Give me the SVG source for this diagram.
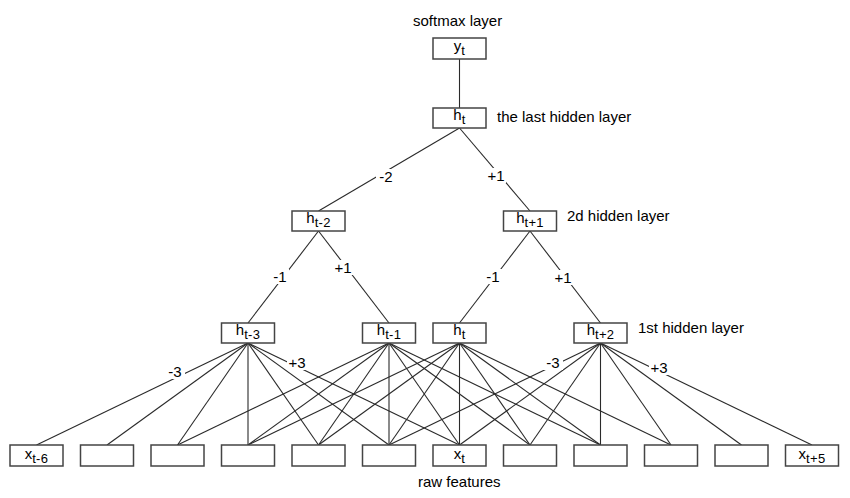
<svg xmlns="http://www.w3.org/2000/svg" width="850" height="498" viewBox="0 0 850 498">
<style>
  .bg { fill: #ffffff; }
  .box { fill: #ffffff; stroke: #444444; stroke-width: 1.5; }
  .edge { stroke: #2a2a2a; stroke-width: 1.1; fill: none; }
  .lblbg { fill: #ffffff; }
  text { font-family: "Liberation Sans", Arial, sans-serif; fill: #000000; }
  .cap { font-size: 15px; }
  .lbl { font-size: 15px; text-anchor: middle; }
  .nt { font-size: 15px; text-anchor: middle; }
  .sub { font-size: 13px; letter-spacing: 0.3px; }
</style>
<rect class="bg" x="0" y="0" width="850" height="498"/>

<g id="connectors">
  <line class="edge" x1="459.5" y1="59" x2="459.5" y2="108"/>
  <line class="edge" x1="459.5" y1="128" x2="318.5" y2="211"/>
  <line class="edge" x1="459.5" y1="128" x2="530" y2="211"/>
  <line class="edge" x1="318.5" y1="231" x2="248" y2="323"/>
  <line class="edge" x1="318.5" y1="231" x2="389" y2="323"/>
  <line class="edge" x1="530" y1="231" x2="459.5" y2="323"/>
  <line class="edge" x1="530" y1="231" x2="600.5" y2="323"/>
  <!-- h t-3 -->
  <line class="edge" x1="248" y1="343" x2="36.5" y2="445"/>
  <line class="edge" x1="248" y1="343" x2="107" y2="445"/>
  <line class="edge" x1="248" y1="343" x2="177.5" y2="445"/>
  <line class="edge" x1="248" y1="343" x2="248" y2="445"/>
  <line class="edge" x1="248" y1="343" x2="318.5" y2="445"/>
  <line class="edge" x1="248" y1="343" x2="389" y2="445"/>
  <line class="edge" x1="248" y1="343" x2="459.5" y2="445"/>
  <!-- h t-1 -->
  <line class="edge" x1="389" y1="343" x2="177.5" y2="445"/>
  <line class="edge" x1="389" y1="343" x2="248" y2="445"/>
  <line class="edge" x1="389" y1="343" x2="318.5" y2="445"/>
  <line class="edge" x1="389" y1="343" x2="389" y2="445"/>
  <line class="edge" x1="389" y1="343" x2="459.5" y2="445"/>
  <line class="edge" x1="389" y1="343" x2="530" y2="445"/>
  <line class="edge" x1="389" y1="343" x2="600.5" y2="445"/>
  <!-- h t -->
  <line class="edge" x1="459.5" y1="343" x2="248" y2="445"/>
  <line class="edge" x1="459.5" y1="343" x2="318.5" y2="445"/>
  <line class="edge" x1="459.5" y1="343" x2="389" y2="445"/>
  <line class="edge" x1="459.5" y1="343" x2="459.5" y2="445"/>
  <line class="edge" x1="459.5" y1="343" x2="530" y2="445"/>
  <line class="edge" x1="459.5" y1="343" x2="600.5" y2="445"/>
  <line class="edge" x1="459.5" y1="343" x2="671" y2="445"/>
  <!-- h t+2 -->
  <line class="edge" x1="600.5" y1="343" x2="389" y2="445"/>
  <line class="edge" x1="600.5" y1="343" x2="459.5" y2="445"/>
  <line class="edge" x1="600.5" y1="343" x2="530" y2="445"/>
  <line class="edge" x1="600.5" y1="343" x2="600.5" y2="445"/>
  <line class="edge" x1="600.5" y1="343" x2="671" y2="445"/>
  <line class="edge" x1="600.5" y1="343" x2="741.5" y2="445"/>
  <line class="edge" x1="600.5" y1="343" x2="812" y2="445"/>

  <!-- edge labels -->
  <rect class="lblbg" x="376" y="169" width="20" height="15"/>
  <text class="lbl" x="386" y="182">-2</text>
  <rect class="lblbg" x="486" y="168" width="20" height="15"/>
  <text class="lbl" x="496" y="181">+1</text>
  <rect class="lblbg" x="271" y="269" width="18" height="15"/>
  <text class="lbl" x="280" y="282">-1</text>
  <rect class="lblbg" x="333" y="260" width="20" height="15"/>
  <text class="lbl" x="343" y="273">+1</text>
  <rect class="lblbg" x="484" y="269" width="18" height="15"/>
  <text class="lbl" x="493" y="282">-1</text>
  <rect class="lblbg" x="553" y="270" width="20" height="15"/>
  <text class="lbl" x="563" y="283">+1</text>
  <rect class="lblbg" x="165" y="364" width="20" height="15"/>
  <text class="lbl" x="175" y="377">-3</text>
  <rect class="lblbg" x="287" y="355" width="20" height="15"/>
  <text class="lbl" x="297" y="368">+3</text>
  <rect class="lblbg" x="543" y="355" width="20" height="15"/>
  <text class="lbl" x="553" y="368">-3</text>
  <rect class="lblbg" x="649" y="360" width="20" height="15"/>
  <text class="lbl" x="659" y="373">+3</text>
</g>

<g id="y_t">
  <rect class="box" x="433" y="38" width="53" height="21"/>
  <text class="nt" x="459.5" y="51">y<tspan class="sub" dy="4">t</tspan></text>
</g>
<g id="h_top">
  <rect class="box" x="433" y="108" width="53" height="20"/>
  <text class="nt" x="459.5" y="120">h<tspan class="sub" dy="4">t</tspan></text>
</g>
<g id="h_t-2">
  <rect class="box" x="292" y="211" width="53" height="20"/>
  <text class="nt" x="318.5" y="223">h<tspan class="sub" dy="4">t-2</tspan></text>
</g>
<g id="h_t+1">
  <rect class="box" x="503.5" y="211" width="53" height="20"/>
  <text class="nt" x="530" y="223">h<tspan class="sub" dy="4">t+1</tspan></text>
</g>
<g id="h_t-3">
  <rect class="box" x="221.5" y="323" width="53" height="20"/>
  <text class="nt" x="248" y="335">h<tspan class="sub" dy="4">t-3</tspan></text>
</g>
<g id="h_t-1">
  <rect class="box" x="362.5" y="323" width="53" height="20"/>
  <text class="nt" x="389" y="335">h<tspan class="sub" dy="4">t-1</tspan></text>
</g>
<g id="h_t">
  <rect class="box" x="433" y="323" width="53" height="20"/>
  <text class="nt" x="459.5" y="335">h<tspan class="sub" dy="4">t</tspan></text>
</g>
<g id="h_t+2">
  <rect class="box" x="574" y="323" width="53" height="20"/>
  <text class="nt" x="600.5" y="335">h<tspan class="sub" dy="4">t+2</tspan></text>
</g>

<g id="x_t-6">
  <rect class="box" x="10" y="445" width="53" height="21"/>
  <text class="nt" x="36.5" y="458.5">x<tspan class="sub" dy="4">t-6</tspan></text>
</g>
<g id="x_t-5"><rect class="box" x="80.5" y="445" width="53" height="21"/></g>
<g id="x_t-4"><rect class="box" x="151" y="445" width="53" height="21"/></g>
<g id="x_t-3"><rect class="box" x="221.5" y="445" width="53" height="21"/></g>
<g id="x_t-2"><rect class="box" x="292" y="445" width="53" height="21"/></g>
<g id="x_t-1"><rect class="box" x="362.5" y="445" width="53" height="21"/></g>
<g id="x_t">
  <rect class="box" x="433" y="445" width="53" height="21"/>
  <text class="nt" x="459.5" y="458.5">x<tspan class="sub" dy="4">t</tspan></text>
</g>
<g id="x_t+1"><rect class="box" x="503.5" y="445" width="53" height="21"/></g>
<g id="x_t+2"><rect class="box" x="574" y="445" width="53" height="21"/></g>
<g id="x_t+3"><rect class="box" x="644.5" y="445" width="53" height="21"/></g>
<g id="x_t+4"><rect class="box" x="715" y="445" width="53" height="21"/></g>
<g id="x_t+5">
  <rect class="box" x="785.5" y="445" width="53" height="21"/>
  <text class="nt" x="812" y="458.5">x<tspan class="sub" dy="4">t+5</tspan></text>
</g>

<g id="captions">
  <text class="cap" x="413" y="26">softmax layer</text>
  <text class="cap" x="497" y="122">the last hidden layer</text>
  <text class="cap" x="567" y="221">2d hidden layer</text>
  <text class="cap" x="638" y="333">1st hidden layer</text>
  <text class="cap" x="418" y="487">raw features</text>
</g>
</svg>
